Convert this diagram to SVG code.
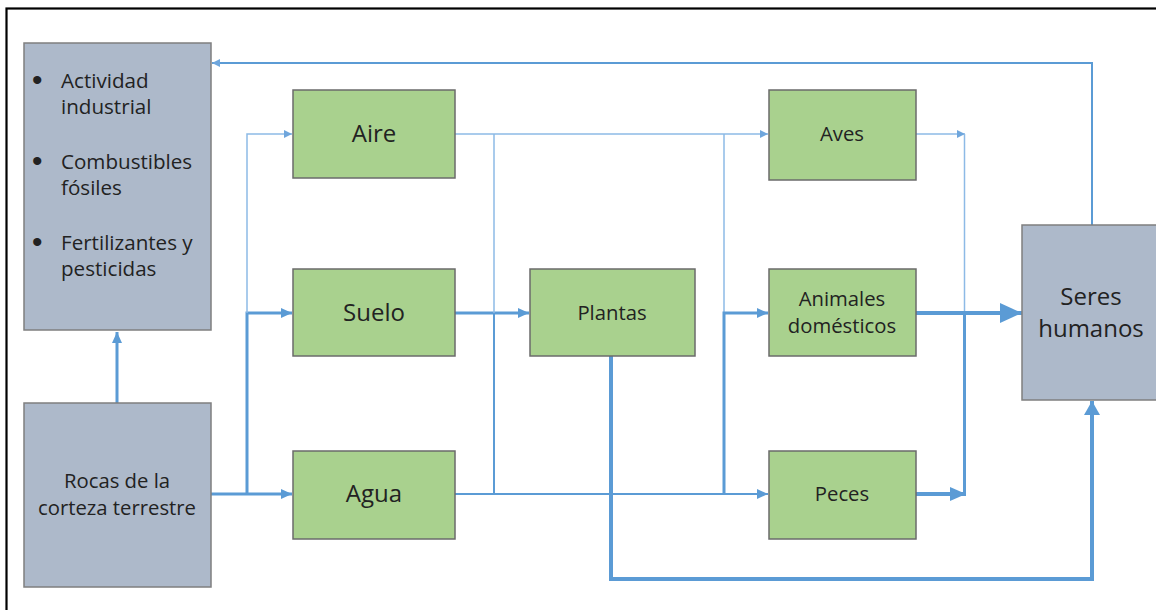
<svg xmlns="http://www.w3.org/2000/svg" width="1156" height="610" viewBox="0 0 1156 610">
<style>
.frame{fill:#fff;stroke:#000;stroke-width:2.2}
.gray{fill:#adb9ca;stroke:#7f7f7f;stroke-width:1.5}
.green{fill:#a9d18e;stroke:#6b6b6b;stroke-width:1.5}
text{font-family:"Open Sans","Liberation Sans",sans-serif;fill:#222}
.big{font-size:24px;text-anchor:middle}
.mid{font-size:20.3px;text-anchor:middle}
.lst{font-size:20.6px}
.bul{font-size:30px;font-family:"Liberation Sans",sans-serif}
.c{fill:none;stroke:#5b9bd5;stroke-linejoin:miter}
.t1{stroke:#8dbae6;stroke-width:1.5}
.t2{stroke-width:2}
.t3{stroke-width:3}
.t4{stroke-width:4}
</style>
<defs>
<marker id="aS" markerUnits="userSpaceOnUse" markerWidth="8" markerHeight="8" refX="8" refY="4" orient="auto"><path d="M0,0L8,4L0,8z" fill="#6fa6dc"/></marker>
<marker id="aM" markerUnits="userSpaceOnUse" markerWidth="11" markerHeight="10" refX="11" refY="5" orient="auto"><path d="M0,0L11,5L0,10z" fill="#5b9bd5"/></marker>
<marker id="aP" markerUnits="userSpaceOnUse" markerWidth="16" markerHeight="14" refX="16" refY="7" orient="auto"><path d="M0,0L16,7L0,14z" fill="#5b9bd5"/></marker>
<marker id="aL" markerUnits="userSpaceOnUse" markerWidth="22" markerHeight="20" refX="22" refY="10" orient="auto"><path d="M0,0L22,10L0,20z" fill="#5b9bd5"/></marker>
<marker id="aU" markerUnits="userSpaceOnUse" markerWidth="14" markerHeight="16" refX="14" refY="8" orient="auto"><path d="M0,0L14,8L0,16z" fill="#5b9bd5"/></marker>
</defs>
<rect class="frame" x="6.5" y="8.5" width="1200" height="700"/>
<g id="connectors">
<path class="c t2" d="M1092,225V63H212" marker-end="url(#aS)"/>
<path class="c t3" d="M117,403V332" marker-end="url(#aM)"/>
<path class="c t3" d="M211,494H292" marker-end="url(#aM)"/>
<path class="c t3" d="M247,494V313H292" marker-end="url(#aM)"/>
<path class="c t1" d="M247,313V134H292" marker-end="url(#aS)"/>
<path class="c t3" d="M455,313H529" marker-end="url(#aM)"/>
<path class="c t1" d="M455,134H768" marker-end="url(#aS)"/>
<path class="c t2" d="M455,494H768" marker-end="url(#aM)"/>
<path class="c t1" d="M494,134V313"/>
<path class="c t2" d="M494,313V494"/>
<path class="c t1" d="M724,134V313"/>
<path class="c t3" d="M724,494V313H768" marker-end="url(#aM)"/>
<path class="c t1" d="M916,134H965" marker-end="url(#aS)"/>
<path class="c t1" d="M964.5,134V313"/>
<path class="c t4" d="M916,494H966" marker-end="url(#aP)"/>
<path class="c t3" d="M964.5,494V313"/>
<path class="c t4" d="M916,313H1022" marker-end="url(#aL)"/>
<path class="c t4" d="M611,356V579H1092V401" marker-end="url(#aU)"/>
</g>
<g id="actividad">
<rect class="gray" x="24" y="43" width="187" height="287"/>
<text class="bul" x="32" y="90">•</text>
<text class="lst" x="61" y="88">Actividad</text>
<text class="lst" x="61" y="114">industrial</text>
<text class="bul" x="32" y="171">•</text>
<text class="lst" x="61" y="169">Combustibles</text>
<text class="lst" x="61" y="195">fósiles</text>
<text class="bul" x="32" y="252">•</text>
<text class="lst" x="61" y="250">Fertilizantes y</text>
<text class="lst" x="61" y="276">pesticidas</text>
</g>
<g id="rocas">
<rect class="gray" x="24" y="403" width="187" height="184"/>
<text class="mid" x="117" y="488">Rocas de la</text>
<text class="mid" x="117" y="515">corteza terrestre</text>
</g>
<g id="aire">
<rect class="green" x="293" y="90" width="162" height="88"/>
<text class="big" x="374" y="142">Aire</text>
</g>
<g id="suelo">
<rect class="green" x="293" y="269" width="162" height="87"/>
<text class="big" x="374" y="321">Suelo</text>
</g>
<g id="agua">
<rect class="green" x="293" y="451" width="162" height="88"/>
<text class="big" x="374" y="502">Agua</text>
</g>
<g id="plantas">
<rect class="green" x="530" y="269" width="165" height="87"/>
<text class="mid" x="612" y="320">Plantas</text>
</g>
<g id="aves">
<rect class="green" x="769" y="90" width="147" height="90"/>
<text class="mid" x="842" y="141">Aves</text>
</g>
<g id="animales">
<rect class="green" x="769" y="269" width="147" height="87"/>
<text class="mid" x="842" y="306">Animales</text>
<text class="mid" x="842" y="333">domésticos</text>
</g>
<g id="peces">
<rect class="green" x="769" y="451" width="147" height="88"/>
<text class="mid" x="842" y="501">Peces</text>
</g>
<g id="seres">
<rect class="gray" x="1022" y="225" width="150" height="175"/>
<text class="big" x="1091" y="305">Seres</text>
<text class="big" x="1091" y="337">humanos</text>
</g>
</svg>
